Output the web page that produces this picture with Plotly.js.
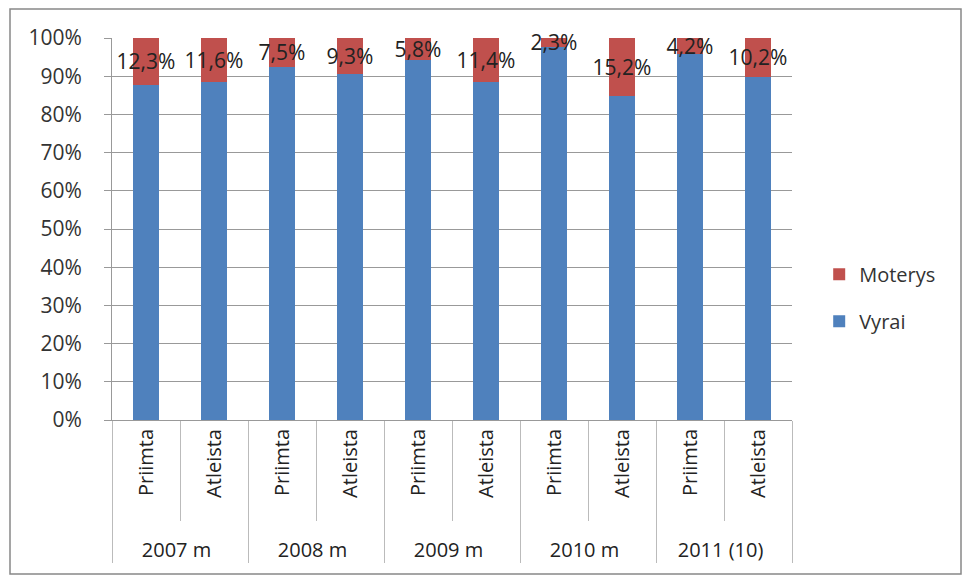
<!DOCTYPE html>
<html>
<head>
<meta charset="utf-8">
<script src="https://cdn.plot.ly/plotly-3.0.1.min.js"></script>
<style>
html,body{margin:0;padding:0;background:#fff;}
#chart{width:964px;height:579px;}
</style>
</head>
<body>
<div id="chart"></div>
<script>
var years = ['2007 m', '2008 m', '2009 m', '2010 m', '2011 (10)'];
var kinds = ['Priimta', 'Atleista'];
var moterys = [12.3, 11.6, 7.5, 9.3, 5.8, 11.4, 2.3, 15.2, 4.2, 10.2];
var vyrai = [87.7, 88.4, 92.5, 90.7, 94.2, 88.6, 97.7, 84.8, 95.8, 89.8];
var yTicks = [0, 10, 20, 30, 40, 50, 60, 70, 80, 90, 100];

var PAD = '\u00a0\u00a0\u00a0\u00a0';
var outer = [], inner = [];
years.forEach(function (y) { kinds.forEach(function (k) { outer.push(y); inner.push(PAD + k); }); });
var fmt = function (v) { return v.toFixed(1).replace('.', ',') + '%'; };

var FONT = 'Open Sans, Liberation Sans, sans-serif';

var traces = [
  {
    type: 'bar', name: 'Vyrai', legendgroup: 'v', legendrank: 2, x: [outer, inner], y: vyrai,
    marker: {color: '#4F81BD'}, hoverinfo: 'none'
  },
  {
    type: 'bar', name: 'Moterys', legendgroup: 'm', legendrank: 1, x: [outer, inner], y: moterys,
    marker: {color: '#C0504D'},
    text: moterys.map(fmt), textposition: 'inside', insidetextanchor: 'middle',
    textangle: 0, constraintext: 'none',
    textfont: {family: FONT, size: 21, color: '#222'},
    cliponaxis: false, hoverinfo: 'none'
  }
];

var layout = {
  width: 964, height: 579,
  margin: {l: 112, r: 172, t: 38, b: 159},
  barmode: 'stack', bargap: 0.62,
  paper_bgcolor: '#fff', plot_bgcolor: '#fff',
  font: {family: FONT, size: 21, color: '#333'},
  showlegend: true,
  legend: {x: 1.04, y: 0.32, xanchor: 'left', yanchor: 'middle', traceorder: 'grouped',
           font: {family: FONT, size: 20, color: '#333'}, tracegroupgap: 18, itemwidth: 30},
  xaxis: {
    type: 'multicategory', showline: true, linecolor: '#999', linewidth: 1,
    tickson: 'boundaries', ticks: 'outside', ticklen: 100, tickcolor: '#bbb', tickwidth: 1,
    showdividers: true, dividercolor: '#bbb', dividerwidth: 1,
    tickangle: -90, tickfont: {family: FONT, size: 20, color: '#222'},
    showgrid: false, zeroline: false, fixedrange: true
  },
  yaxis: {
    range: [0, 100], tickvals: yTicks, ticktext: yTicks.map(function (v) { return v + '%'; }),
    showgrid: true, gridcolor: '#999', gridwidth: 1,
    showline: true, linecolor: '#999', ticks: 'outside', ticklen: 7, tickcolor: '#999',
    ticklabelstandoff: 18,
    tickfont: {family: FONT, size: 21, color: '#333'}, zeroline: false, fixedrange: true
  },
  shapes: [{
    type: 'rect', xref: 'paper', yref: 'paper',
    x0: (10 - 112) / 680, x1: (961 - 112) / 680, y0: -(574 - 420) / 382, y1: 1 + (38 - 9) / 382,
    line: {color: '#888', width: 1.5}, fillcolor: 'rgba(0,0,0,0)', layer: 'below'
  }]
};

Plotly.newPlot('chart', traces, layout, {displayModeBar: false, staticPlot: true});
</script>
</body>
</html>
